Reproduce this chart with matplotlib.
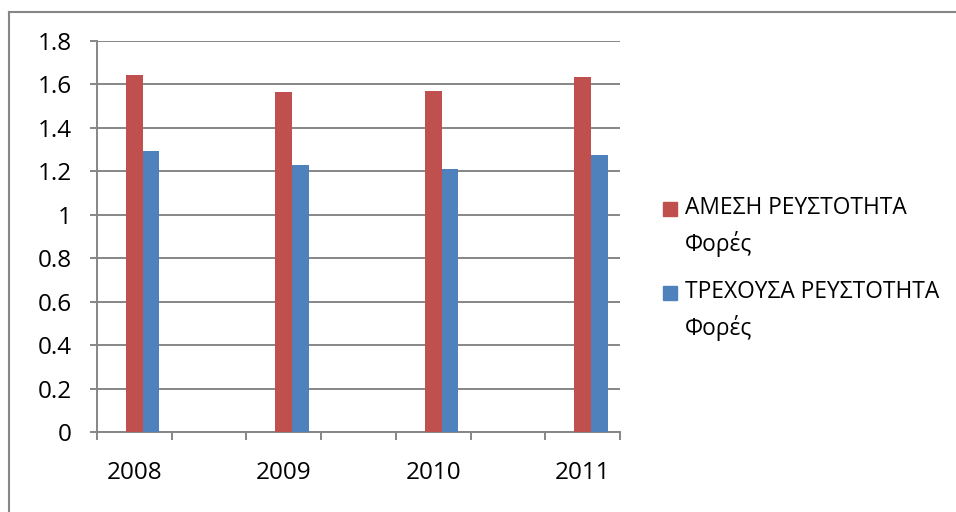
import numpy as np
import matplotlib
matplotlib.use('Agg')
import matplotlib.pyplot as plt
from matplotlib.patches import Rectangle
from matplotlib.lines import Line2D

plt.rcParams['font.family'] = ['Open Sans', 'DejaVu Sans']

# ── 데이터 ─────────────────────────────────────────────
years = ['2008', '2009', '2010', '2011']
amesi = [1.642, 1.565, 1.568, 1.632]      # ΑΜΕΣΗ ΡΕΥΣΤΟΤΗΤΑ
trexousa = [1.294, 1.228, 1.212, 1.274]   # ΤΡΕΧΟΥΣΑ ΡΕΥΣΤΟΤΗΤΑ
labels = ['ΑΜΕΣΗ ΡΕΥΣΤΟΤΗΤΑ\nΦορές', 'ΤΡΕΧΟΥΣΑ ΡΕΥΣΤΟΤΗΤΑ\nΦορές']
yticks = [0, 0.2, 0.4, 0.6, 0.8, 1, 1.2, 1.4, 1.6, 1.8]
ytick_labels = ['0', '0.2', '0.4', '0.6', '0.8', '1', '1.2', '1.4', '1.6', '1.8']

RED = '#C0504D'
BLUE = '#4F81BD'
GRID = '#868686'

W, H = 956, 512
fig = plt.figure(figsize=(W / 100, H / 100), dpi=100)
ax = fig.add_axes([97 / W, 1 - 432 / H, (620 - 97) / W, (432 - 41) / H])

# 카테고리 7칸 중 짝수 칸에 연도 배치 (엑셀 원본 레이아웃)
pos = np.arange(len(years)) * 2
w = 0.222
ax.bar(pos, amesi, width=w, color=RED, zorder=3)
ax.bar(pos + w, trexousa, width=w, color=BLUE, zorder=3)

ax.set_xlim(-0.5, 6.5)
ax.set_ylim(0, 1.8)
ax.set_yticks(yticks)
ax.set_yticklabels(ytick_labels)
ax.set_xticks(pos)
ax.set_xticklabels(years)
ax.set_xticks(np.arange(-0.5, 7.0, 1.0), minor=True)

ax.yaxis.grid(True, color=GRID, linewidth=1.4, zorder=0)
for side in ['top', 'right']:
    ax.spines[side].set_visible(False)
for side in ['left', 'bottom']:
    ax.spines[side].set_color(GRID)
    ax.spines[side].set_linewidth(1.4)

ax.tick_params(axis='y', length=5, width=1.4, color=GRID, pad=13,
               labelsize=17.5, labelcolor='black')
ax.tick_params(axis='x', which='major', length=0, pad=21,
               labelsize=17.5, labelcolor='black')
ax.tick_params(axis='x', which='minor', length=5.5, width=1.4, color=GRID)

# ── 범례 (수동) ───────────────────────────────────────
for i, (lab, col) in enumerate(zip(labels, [RED, BLUE])):
    y0 = 202 + i * 84
    fig.patches.append(Rectangle((663 / W, 1 - (y0 + 14) / H), 14 / W, 14 / H,
                                 transform=fig.transFigure, color=col))
    fig.text(685 / W, 1 - (y0 - 6) / H, lab, ha='left', va='top',
             fontsize=16.4, linespacing=1.55)

# 차트 외곽 테두리 (위, 왼쪽만 보임)
fig.lines.append(Line2D([9 / W, 1], [1 - 12 / H, 1 - 12 / H],
                        transform=fig.transFigure, color=GRID, linewidth=1.5))
fig.lines.append(Line2D([9 / W, 9 / W], [0, 1 - 12 / H],
                        transform=fig.transFigure, color=GRID, linewidth=1.5))

fig.savefig('out.png', dpi=100)
